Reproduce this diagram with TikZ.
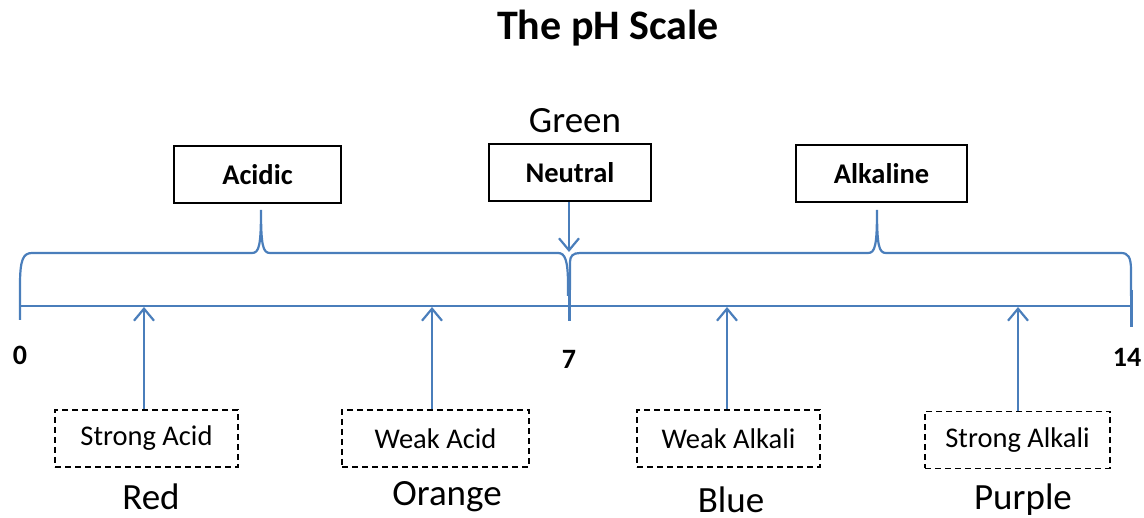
\documentclass[tikz,border=0pt]{standalone}
\usepackage{fontspec}
\setmainfont{Carlito}
\usetikzlibrary{arrows.meta}
\definecolor{lineblue}{HTML}{4A7EBB}
\begin{document}
\begin{tikzpicture}[x=1pt,y=-1pt,
  bline/.style={draw=lineblue,line width=2.2pt},
  arr/.style={bline,-{Straight Barb[length=12pt,width=20pt]}},
  catbox/.style={draw=black,line width=1.6pt,inner sep=0pt,minimum height=57pt,font=\fontsize{28.5}{34}\selectfont\bfseries},
  kindbox/.style={draw=black,line width=1.6pt,dash pattern=on 6pt off 4pt,inner sep=0pt,minimum height=57pt,font=\fontsize{28.5}{34}\selectfont},
  colourlabel/.style={font=\fontsize{37}{42}\selectfont,inner sep=0pt},
  numlabel/.style={font=\fontsize{28}{32}\selectfont\bfseries,inner sep=0pt}
]
\useasboundingbox (0,0) rectangle (1144,518);
\node[font=\fontsize{42}{48}\selectfont\bfseries,inner sep=0pt] (title) at (608,28) {The pH Scale};

% axis and braces
\coordinate (a0) at (20,306);
\coordinate (a7) at (569,306);
\coordinate (a14) at (1131,306);
\draw[bline] (a0) -- (a14);
\draw[bline] (20,320) -- (20,285) .. controls (20,260) and (23,253) .. (32,253) -- (252,253)
  .. controls (259,253) and (261,246) .. (261,210)
  .. controls (261,246) and (263,253) .. (270,253) -- (558,253)
  .. controls (565,253) and (568,260) .. (568,285) -- (568,296);
\draw[bline] (570,290) -- (570,262) .. controls (570,256) and (573,253) .. (580,253) -- (868,253)
  .. controls (875,253) and (877,246) .. (877,210)
  .. controls (877,246) and (879,253) .. (886,253) -- (1121,253)
  .. controls (1128,253) and (1131,257) .. (1131,270) -- (1131,296);
\draw[draw=lineblue,line width=3pt] (569,290) -- (569,321);
\draw[draw=lineblue,line width=3pt] (1131,290) -- (1131,327);

% category boxes
\node[catbox,minimum width=167pt] (acidic) at (257.5,174.5) {Acidic};
\node[catbox,minimum width=162pt] (neutral) at (570,172.5) {Neutral};
\node[catbox,minimum width=171pt] (alkaline) at (881.5,173.5) {Alkaline};
\node[colourlabel] (green) at (575,121) {Green};
\coordinate (ntip) at (569,252);
\draw[arr] (neutral.south -| ntip) -- (ntip);

% numbers
\node[numlabel] (n0) at (20,355) {0};
\node[numlabel] (n7) at (569,359) {7};
\node[numlabel] (n14) at (1127,357) {14};

% kind boxes
\node[kindbox,minimum width=183pt] (sacid) at (146.5,438.5) {Strong Acid};
\node[kindbox,minimum width=187pt] (wacid) at (435.5,438.5) {Weak Acid};
\node[kindbox,minimum width=183pt] (walk) at (728.5,438.5) {Weak Alkali};
\node[kindbox,minimum width=185pt] (salk) at (1017.5,440) {Strong Alkali};

\coordinate (p1) at (144,307);
\coordinate (p2) at (432,307);
\coordinate (p3) at (727,307);
\coordinate (p4) at (1018,307);
\draw[arr] (sacid.north -| p1) -- (p1);
\draw[arr] (wacid.north -| p2) -- (p2);
\draw[arr] (walk.north -| p3) -- (p3);
\draw[arr] (salk.north -| p4) -- (p4);

\node[colourlabel] (red) at (151,497) {Red};
\node[colourlabel] (orange) at (447,497) {Orange};
\node[colourlabel] (blue) at (731,500) {Blue};
\node[colourlabel] (purple) at (1023,500) {Purple};
\end{tikzpicture}
\end{document}
